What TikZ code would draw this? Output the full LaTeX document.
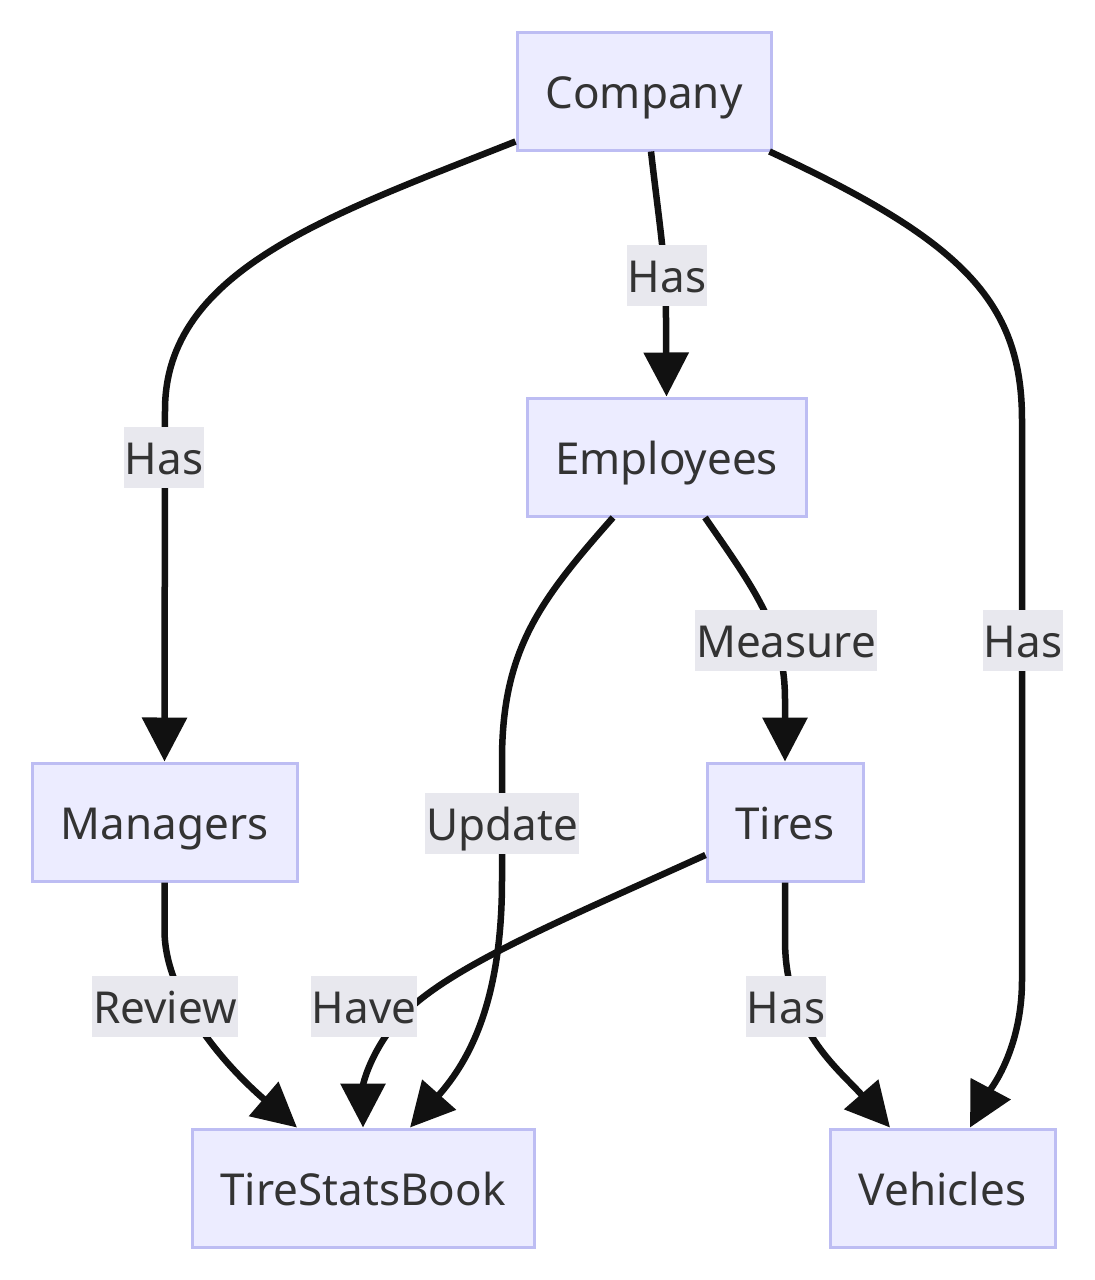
\documentclass[tikz,border=0pt]{standalone}
\usepackage{fontspec}
\setmainfont{Noto Sans}
\usetikzlibrary{arrows.meta,calc}
\definecolor{boxfill}{HTML}{ECECFF}
\definecolor{boxline}{HTML}{BDBDF3}
\definecolor{txt}{HTML}{333333}
\definecolor{lblbg}{HTML}{E8E8EE}
\definecolor{edge}{HTML}{111111}
\tikzset{
  box/.style={draw=boxline, line width=3pt, fill=boxfill, text=txt, font=\fontsize{44}{52}\selectfont, minimum height=118pt, inner xsep=28pt, text height=34pt, text depth=0pt, anchor=center},
  lbl/.style={fill=lblbg, text=txt, font=\fontsize{44}{52}\selectfont, inner xsep=1pt, minimum height=61pt, inner ysep=0pt, text height=34pt, text depth=0pt},
  conn/.style={draw=edge, line width=6.5pt, -{Triangle[length=44pt,width=44pt]}}
}
\begin{document}
\begin{tikzpicture}[x=1pt,y=-1pt]
\useasboundingbox (0,0) rectangle (1095,1280);
\node[box, minimum width=254pt] (Company) at (644,91) {Company};
\node[box, minimum width=279pt] (Employees) at (666.5,457) {Employees};
\node[box, minimum width=265pt] (Managers) at (164.5,822) {Managers};
\node[box, minimum width=156pt] (Tires) at (785,822) {Tires};
\node[box, minimum width=342pt] (TSB) at (363,1188) {TireStatsBook};
\node[box, minimum width=225pt] (Vehicles) at (942.5,1188) {Vehicles};

% edges
\draw[conn] ($(Company.south west)+(0,-10)$) .. controls (330,215) and (165,270) .. (165,410) -- (Managers.north);
\draw[conn] ($(Company.south)+(7,0)$) .. controls (660,230) and (666,260) .. (666,320) -- (Employees.north);
\draw[conn] ($(Company.south east)+(-3,0)$) .. controls (960,240) and (1022,300) .. (1022,420) -- (1022,980) .. controls (1022,1050) and (990,1090) .. ($(Vehicles.north)+(27.5,0)$);
\draw[conn] ($(Employees.south)+(38.5,0)$) .. controls (755,590) and (785,630) .. (785,700) -- (Tires.north);
\draw[conn] ($(Employees.south)+(-53.5,0)$) .. controls (540,600) and (502,650) .. (502,760) -- (502,880) .. controls (502,1000) and (470,1060) .. ($(TSB.north)+(47,0)$);
\draw[conn] (Managers.south) -- (164.5,930) .. controls (164.5,1000) and (230,1070) .. ($(TSB.north)+(-66,0)$);
\draw[conn] ($(Tires.west)+(0,33)$) .. controls (540,930) and (430,975) .. (390,1030) .. controls (368,1060) and (363,1085) .. (TSB.north);
\draw[conn] (Tires.south) -- (785,940) .. controls (785,1030) and (840,1070) .. ($(Vehicles.north)+(-52.5,0)$);

% labels
\node[lbl] (l1) at (164,457) {Has};
\node[lbl] (l2) at (667,275) {Has};
\node[lbl] (l3) at (1023,640) {Has};
\node[lbl] (l4) at (786,640) {Measure};
\node[lbl] (l5) at (502,823) {Update};
\node[lbl] (l6) at (165,1006) {Review};
\node[lbl] (l7) at (364,1006) {Have};
\node[lbl] (l8) at (786,1006) {Has};
\end{tikzpicture}
\end{document}
